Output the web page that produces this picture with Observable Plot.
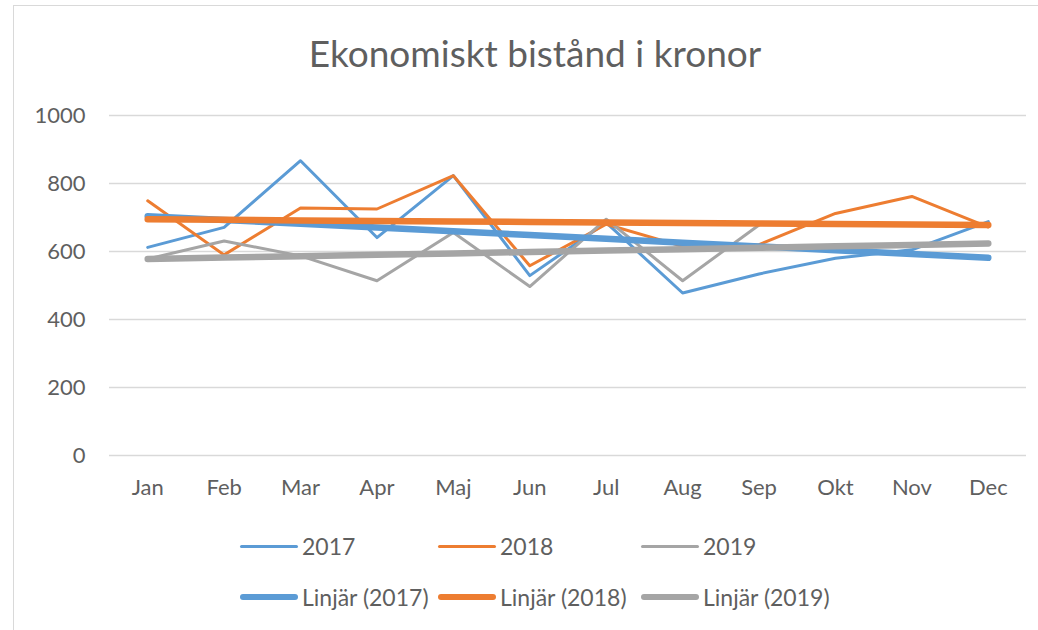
<!DOCTYPE html>
<html><head><meta charset="utf-8">
<script src="https://cdn.jsdelivr.net/npm/d3@7"></script>
<script src="https://cdn.jsdelivr.net/npm/@observablehq/plot@0.6"></script>
<style>
body{margin:0;background:#fff;font-family:Lato,"Open Sans",sans-serif;color:#5f5f5f;width:1038px;height:630px;overflow:hidden;position:relative;}
#frame{position:absolute;left:13px;top:5px;width:1040px;height:640px;border:1px solid #d9d9d9;}
#title{position:absolute;left:0;top:34px;width:1070px;text-align:center;font-size:37px;line-height:37px;}
#chart{position:absolute;left:0;top:84px;}
.leg{position:absolute;display:flex;align-items:center;height:26px;font-size:23px;line-height:26px;white-space:nowrap;}
.sw{display:inline-block;width:58px;margin-right:4px;border-radius:4px;}
</style></head><body>
<div id="frame"></div>
<div id="title">Ekonomiskt bistånd i kronor</div>
<div id="chart"></div>
<div id="legend"></div>
<script>
const months = ["Jan","Feb","Mar","Apr","Maj","Jun","Jul","Aug","Sep","Okt","Nov","Dec"];
const years = ["2017","2018","2019"];
const v2017 = [612, 671, 867, 641, 823, 529, 685, 478, 534, 580, 605, 688];
const v2018 = [749, 590, 728, 725, 823, 558, 680, 615, 620, 712, 762, 672];
const v2019 = [578, 631, 587, 514, 656, 497, 695, 514, 678];
const yTicks = [0, 200, 400, 600, 800, 1000];
const colors = ["#5B9BD5", "#ED7D31", "#A5A5A5"];
const legendLabels = ["2017","2018","2019","Linjär (2017)","Linjär (2018)","Linjär (2019)"];

const series = [v2017, v2018, v2019];
const rows = series.flatMap((vals, k) => vals.map((v, i) => ({i, v, year: years[k]})));
function fit(vals) {
  const xs = vals.map((_, i) => i);
  const mx = d3.mean(xs), my = d3.mean(vals);
  const b = d3.sum(xs, (x, j) => (x - mx) * (vals[j] - my)) / d3.sum(xs, x => (x - mx) ** 2);
  const a = my - b * mx;
  return months.map((_, i) => ({i, v: a + b * i}));
}
const trends = series.flatMap((vals, k) => fit(vals).map(d => ({...d, year: years[k]})));

const font = 'Lato,"Open Sans",sans-serif';
const chart = Plot.plot({
  width: 1038, height: 431,
  marginLeft: 109, marginRight: 12, marginTop: 31, marginBottom: 60,
  style: {fontFamily: font, fontSize: "22px", color: "#5f5f5f", background: "transparent", overflow: "visible"},
  x: {domain: [-0.5, 11.5], axis: null},
  y: {domain: [0, 1000], axis: null},
  color: {domain: years, range: colors},
  marks: [
    Plot.gridY(yTicks, {stroke: "#d9d9d9", strokeOpacity: 1, strokeWidth: 1.3}),
    Plot.axisY(yTicks, {label: null, tickSize: 0, tickPadding: 24, tickFormat: d => String(d), color: "#5f5f5f", fontSize: 22}),
    Plot.axisX(d3.range(months.length), {label: null, tickSize: 0, tickPadding: 24, tickFormat: i => months[i], color: "#5f5f5f", fontSize: 22}),
    Plot.line(rows, {x: "i", y: "v", z: "year", stroke: "year", strokeWidth: 3, strokeLinejoin: "round"}),
    Plot.line(trends, {x: "i", y: "v", z: "year", stroke: "year", strokeWidth: 6.5, strokeLinecap: "round"})
  ]
});
document.getElementById("chart").append(chart);

const legend = document.getElementById("legend");
const colX = [240, 438, 641];
const rowY = [546, 597];
legendLabels.forEach((lab, k) => {
  const r = Math.floor(k / 3), c = k % 3;
  const item = document.createElement("div");
  item.className = "leg";
  item.style.left = colX[c] + "px";
  item.style.top = (rowY[r] - 13) + "px";
  const sw = document.createElement("span");
  sw.className = "sw";
  sw.style.background = colors[c];
  sw.style.height = (r === 0 ? 3 : 6.5) + "px";
  const t = document.createElement("span");
  t.textContent = lab;
  item.append(sw, t);
  legend.append(item);
});
</script>
</body></html>
